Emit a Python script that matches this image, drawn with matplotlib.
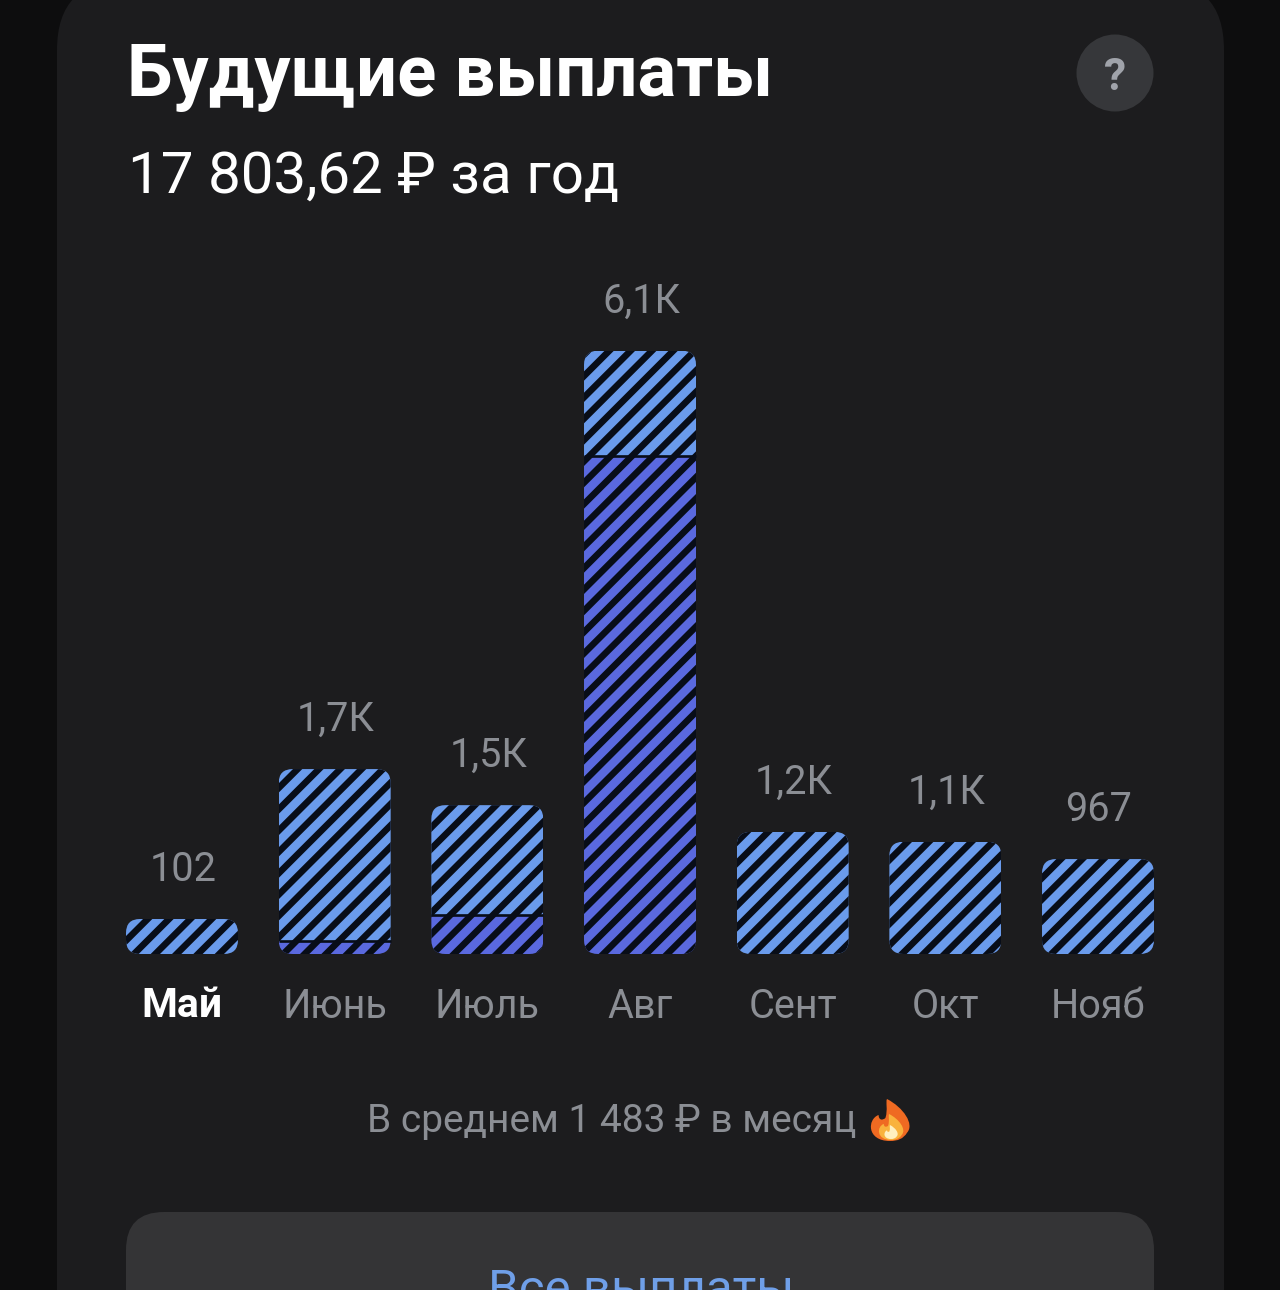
import matplotlib
matplotlib.use('Agg')
import matplotlib.pyplot as plt
from matplotlib.patches import FancyBboxPatch, Circle, PathPatch
from matplotlib.path import Path
from matplotlib.transforms import IdentityTransform

# --- Data ---
months = ['Май', 'Июнь', 'Июль', 'Авг', 'Сент', 'Окт', 'Нояб']
value_labels = ['102', '1,7К', '1,5К', '6,1К', '1,2К', '1,1К', '967']
# bar heights as drawn (the app keeps a minimum height for small months)
lower_part = [0, 130, 395, 5040, 0, 0, 0]
upper_part = [354, 1740, 1110, 1060, 1235, 1135, 960]

# --- Styles ---
W, H = 1280, 1290
DPI = 128
OUTER = '#0d0d0e'
CARD = '#1c1c1e'
BUTTON = '#343436'
GREY = '#8b8e94'
LIGHT_BLUE = '#6a9bec'
DEEP_BLUE = '#5a69df'
STRIPE = '#080d18'
PX_PER_UNIT = 0.0989

plt.rcParams['font.family'] = ['Roboto', 'DejaVu Sans']
plt.rcParams['hatch.linewidth'] = 3.7

fig = plt.figure(figsize=(W / DPI, H / DPI), dpi=DPI, facecolor=OUTER)

# --- Card, header and footer in pixel coordinates ---
bg = fig.add_axes([0, 0, 1, 1])
bg.set_xlim(0, W)
bg.set_ylim(H, 0)
bg.axis('off')

bg.add_patch(FancyBboxPatch((57, -20), 1167, 1500, boxstyle='round,pad=0,rounding_size=70',
                            fc=CARD, ec='none'))
bg.add_patch(FancyBboxPatch((126, 1212), 1028, 200, boxstyle='round,pad=0,rounding_size=38',
                            fc=BUTTON, ec='none'))
bg.add_patch(Circle((1115, 73), 38.5, fc='#36373a', ec='none'))

bg.text(127, 96, 'Будущие выплаты', color='white', fontsize=40.7, fontweight='bold', va='baseline')
bg.text(128, 193, '17 803,62 ₽ за год', color='white', fontsize=32.8, va='baseline')
bg.text(1115, 90, '?', color='#a0a3aa', fontsize=25, fontweight='bold', ha='center', va='baseline')
bg.text(367, 1132, 'В среднем 1 483 ₽ в месяц', color=GREY, fontsize=21.9, va='baseline')
bg.text(641, 1304, 'Все выплаты', color='#6f9fe8', fontsize=27.7, ha='center', va='baseline')

# flame emoji
def flame(cx, base, w, h, color):
    verts = [(cx, base),
             (cx - w * 0.62, base), (cx - w * 0.6, base - h * 0.52), (cx - w * 0.3, base - h * 0.62),
             (cx - w * 0.3, base - h * 0.5), (cx - w * 0.2, base - h * 0.48), (cx - w * 0.12, base - h * 0.55),
             (cx - w * 0.05, base - h * 0.75), (cx - w * 0.12, base - h * 0.92), (cx - w * 0.08, base - h),
             (cx + w * 0.35, base - h * 0.8), (cx + w * 0.65, base - h * 0.4), (cx + w * 0.45, base - h * 0.2),
             (cx + w * 0.35, base - h * 0.05), (cx + w * 0.2, base), (cx, base)]
    codes = [Path.MOVETO] + [Path.CURVE4] * 15
    bg.add_patch(PathPatch(Path(verts, codes), fc=color, ec='none'))

flame(890, 1141, 38, 42, '#ef6a22')
flame(891, 1140, 24, 26, '#f9b23c')
flame(891, 1139, 13, 14, '#fff0c0')

# --- Bars ---
left, right, top, bottom = 106, 1174, 250, 954
ax = fig.add_axes([left / W, 1 - bottom / H, (right - left) / W, (bottom - top) / H])
ax.patch.set_alpha(0)
step = 152.67
ax.set_xlim((left - 182) / step, (right - 182) / step)
ax.set_ylim(0, (bottom - top) / PX_PER_UNIT)
for side in ax.spines.values():
    side.set_visible(False)
ax.set_yticks([])

x = list(range(len(months)))
bar_width = 112 / step

lower_bars = ax.bar(x, lower_part, bar_width, color=DEEP_BLUE, edgecolor=STRIPE,
                    linewidth=0, hatch='//')
upper_bars = ax.bar(x, upper_part, bar_width, bottom=lower_part, color=LIGHT_BLUE,
                    edgecolor=STRIPE, linewidth=0, hatch='//')

for i in x:
    total = lower_part[i] + upper_part[i]
    (x0, y0) = ax.transData.transform((i - bar_width / 2, 0))
    (x1, y1) = ax.transData.transform((i + bar_width / 2, total))
    outline = FancyBboxPatch((x0, y0), x1 - x0, y1 - y0, boxstyle='round,pad=0,rounding_size=14',
                             transform=IdentityTransform())
    lower_bars[i].set_clip_path(outline)
    upper_bars[i].set_clip_path(outline)
    if lower_part[i] > 0:
        ax.hlines(lower_part[i], i - bar_width / 2, i + bar_width / 2, color=STRIPE, linewidth=1.5)
    ax.annotate(value_labels[i], (i, total), xytext=(0.5, 21.5), textcoords='offset points',
                color=GREY, fontsize=22.3, ha='center', va='baseline', annotation_clip=False)

ax.set_xticks(x, months)
ax.tick_params(axis='x', length=0, pad=18.5, labelsize=22.3, labelcolor=GREY)
ax.get_xticklabels()[0].set_color('white')
ax.get_xticklabels()[0].set_fontweight('bold')
ax.get_xticklabels()[0].set_fontsize(23)

fig.savefig('out.png', facecolor=OUTER)
